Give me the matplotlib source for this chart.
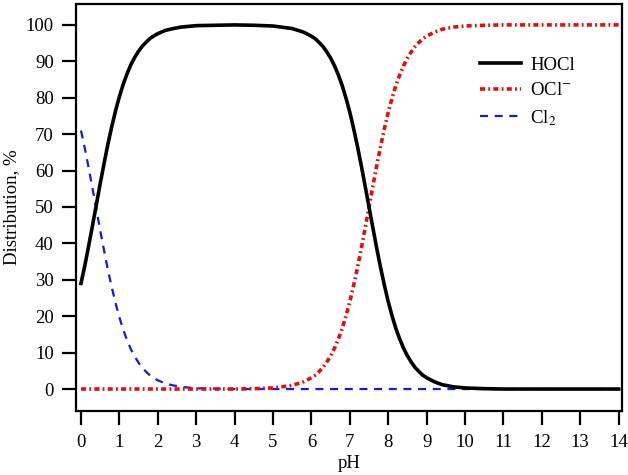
import matplotlib.pyplot as plt

# values
ph = [0.0, 0.1, 0.2, 0.3, 0.4, 0.5, 0.6, 0.7, 0.8, 0.9,
      1.0, 1.1, 1.2, 1.3, 1.4, 1.5, 1.6, 1.7, 1.8, 1.9,
      2.0, 2.2, 2.4, 2.6, 2.8, 3.0, 3.5, 4.0,
      4.5, 5.0, 5.5, 5.8,
      6.0, 6.1, 6.2, 6.3, 6.4, 6.5, 6.6, 6.7, 6.8, 6.9,
      7.0, 7.1, 7.2, 7.3, 7.4, 7.5, 7.6, 7.7, 7.8, 7.9,
      8.0, 8.1, 8.2, 8.3, 8.4, 8.5, 8.6, 8.7, 8.8, 8.9,
      9.0, 9.2, 9.4, 9.7, 10.0, 10.5, 11.0, 12.0, 13.0, 14.0]
hocl = [29.0, 33.9, 39.3, 44.9, 50.6, 56.4, 61.9, 67.2, 72.0, 76.4,
        80.3, 83.7, 86.6, 89.1, 91.1, 92.8, 94.2, 95.3, 96.3, 97.0,
        97.6, 98.5, 99.0, 99.4, 99.6, 99.8, 99.9, 100.0,
        99.9, 99.7, 99.0, 98.0,
        96.9, 96.2, 95.2, 94.1, 92.6, 90.9, 88.8, 86.3, 83.4, 79.9,
        76.0, 71.5, 66.6, 61.3, 55.7, 50.0, 44.3, 38.7, 33.4, 28.5,
        24.0, 20.1, 16.6, 13.7, 11.2, 9.1, 7.4, 5.9, 4.8, 3.8,
        3.1, 2.0, 1.2, 0.6, 0.3, 0.1, 0.0, 0.0, 0.0, 0.0]
ocl = [0.0, 0.0, 0.0, 0.0, 0.0, 0.0, 0.0, 0.0, 0.0, 0.0,
       0.0, 0.0, 0.0, 0.0, 0.0, 0.0, 0.0, 0.0, 0.0, 0.0,
       0.0, 0.0, 0.0, 0.0, 0.0, 0.0, 0.0, 0.0,
       0.1, 0.3, 1.0, 2.0,
       3.1, 3.8, 4.8, 5.9, 7.4, 9.1, 11.2, 13.7, 16.6, 20.1,
       24.0, 28.5, 33.4, 38.7, 44.3, 50.0, 55.7, 61.3, 66.6, 71.5,
       76.0, 79.9, 83.4, 86.3, 88.8, 90.9, 92.6, 94.1, 95.2, 96.2,
       96.9, 98.0, 98.8, 99.4, 99.7, 99.9, 100.0, 100.0, 100.0, 100.0]
cl2 = [71.0, 66.1, 60.7, 55.1, 49.4, 43.6, 38.1, 32.8, 28.0, 23.6,
       19.7, 16.3, 13.4, 10.9, 8.9, 7.2, 5.8, 4.7, 3.7, 3.0,
       2.4, 1.5, 1.0, 0.6, 0.4, 0.2, 0.1, 0.0,
       0.0, 0.0, 0.0, 0.0,
       0.0, 0.0, 0.0, 0.0, 0.0, 0.0, 0.0, 0.0, 0.0, 0.0,
       0.0, 0.0, 0.0, 0.0, 0.0, 0.0, 0.0, 0.0, 0.0, 0.0,
       0.0, 0.0, 0.0, 0.0, 0.0, 0.0, 0.0, 0.0, 0.0, 0.0,
       0.0, 0.0, 0.0, 0.0, 0.0, 0.0, 0.0, 0.0, 0.0, 0.0]

xticks = list(range(0, 15))
yticks = list(range(0, 101, 10))

plt.rcParams['font.family'] = ['Liberation Serif', 'DejaVu Serif']
plt.rcParams['mathtext.fontset'] = 'stix'

fig = plt.figure(figsize=(6.28, 4.75), dpi=100)
ax = fig.add_axes([0.121, 0.135, 0.869, 0.857])

ax.plot(ph, cl2, color='#1a1ad6', lw=1.6, ls=(0, (3.6, 3)), label='Cl$_2$', zorder=2)
ax.plot(ph, ocl, color='#e01010', lw=2.6, ls=(0, (1.4, 0.9, 0.5, 0.9)), label='OCl$^{-}$', zorder=3)
ax.plot(ph, hocl, color='black', lw=2.6, label='HOCl', zorder=4)

ax.set_xlim(-0.13, 14.08)
ax.set_ylim(-6, 105.8)
ax.set_xticks(xticks)
ax.set_yticks(yticks)
ax.tick_params(direction='out', length=10, width=1.6, labelsize=13.5, pad=6)
ax.tick_params(axis='x', pad=7)
for s in ax.spines.values():
    s.set_linewidth(1.6)

ax.set_xlabel('pH', fontsize=13.5, labelpad=2.5)
ax.set_ylabel('Distribution, %', fontsize=13.5, labelpad=4)

h, l = ax.get_legend_handles_labels()
ax.legend(h[::-1], l[::-1], loc='upper left', bbox_to_anchor=(0.74, 0.87), frameon=False,
          borderaxespad=0, borderpad=0, fontsize=13.5, handlelength=2.2,
          handletextpad=0.5, labelspacing=0.45)

fig.savefig('out.png', dpi=100)
